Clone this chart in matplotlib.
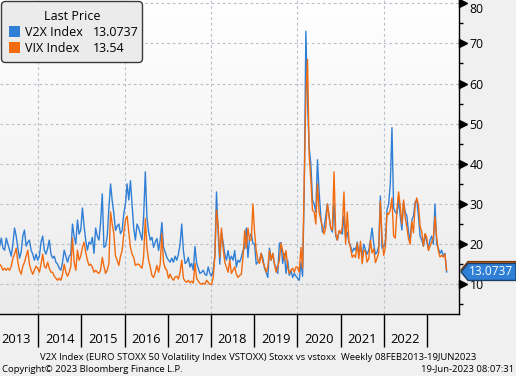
import numpy as np
import pandas as pd
import matplotlib
matplotlib.use("Agg")
import matplotlib.pyplot as plt
import matplotlib.dates as mdates
import matplotlib.transforms as mtransforms
from matplotlib.colors import LinearSegmentedColormap
from matplotlib.patches import FancyBboxPatch, Polygon, Rectangle

plt.rcParams["font.family"] = ["Open Sans", "DejaVu Sans"]

# bi-weekly closes, starting Fri 08 Feb 2013
v2x_2013 = [19.5, 21.5, 19.0, 18.5, 21.5, 20.0, 18.5, 17.0, 20.0, 24.0, 22.0, 19.0,
            16.5, 18.0, 22.0, 23.5, 19.5, 20.5, 21.0, 18.5, 17.5, 16.0, 17.5, 16.0]
v2x_2014 = [17.0, 20.5, 22.0, 18.5, 17.5, 19.0, 21.0, 17.5, 16.5, 17.0, 15.5, 15.0, 14.0,
            13.5, 15.5, 18.5, 17.0, 15.5, 17.0, 17.5, 25.0, 22.0, 20.0, 26.0, 22.5, 23.5]
v2x_2015 = [29.0, 24.5, 21.0, 18.5, 20.5, 20.0, 21.7, 17.7, 24.0, 22.0, 21.0, 25.4, 32.5,
            19.2, 19.5, 22.0, 29.0, 35.0, 30.8, 27.6, 23.4, 24.5, 25.0, 22.6, 23.4, 27.6]
v2x_2016 = [30.0, 35.0, 31.0, 35.8, 30.0, 24.0, 21.0, 25.0, 24.0, 22.5, 21.0, 27.0, 38.0,
            26.6, 23.0, 21.0, 21.7, 19.2, 20.5, 21.4, 18.4, 21.0, 25.4, 19.2, 18.0, 16.7]
v2x_2017 = [16.0, 15.5, 16.5, 15.5, 17.0, 16.0, 17.5, 20.0, 25.0, 18.4, 15.2, 15.5, 16.7,
            14.3, 15.2, 13.5, 19.4, 15.2, 14.0, 12.7, 13.0, 13.5, 12.5, 12.2, 14.3, 12.7]
v2x_2018 = [12.0, 13.5, 17.0, 33.0, 22.6, 15.0, 23.0, 20.4, 17.5, 16.0, 18.4, 16.0, 17.0,
            16.0, 18.4, 14.3, 16.0, 15.5, 16.7, 18.4, 19.0, 24.0, 16.7, 21.7, 22.6, 20.2]
v2x_2019 = [20.0, 15.0, 15.5, 16.0, 17.7, 16.5, 14.0, 13.0, 11.7, 19.0, 16.0, 17.7, 15.0,
            14.3, 12.7, 20.2, 20.4, 15.2, 17.7, 12.7, 16.0, 12.2, 13.5, 11.7, 12.7, 12.0]
v2x_2020 = [11.5, 11.0, 15.5, 12.0, 33.0, 73.0, 55.0, 44.0, 40.0, 31.0, 30.0, 28.0, 41.0,
            33.0, 27.0, 23.0, 24.0, 27.0, 30.0, 27.0, 24.0, 23.0, 30.0, 22.0, 21.0, 23.0]
v2x_2021 = [23.0, 22.5, 27.0, 21.5, 23.0, 20.5, 19.5, 18.0, 19.0, 18.5, 20.5, 17.5, 19.5,
            17.0, 20.0, 18.5, 17.5, 18.5, 21.0, 24.0, 20.0, 17.5, 18.0, 19.5, 32.0, 19.0, 19.5]
v2x_2022 = [20.5, 28.5, 30.0, 35.0, 49.0, 29.0, 28.0, 27.5, 31.0, 27.0, 23.5, 30.5, 28.0,
            27.0, 23.0, 21.0, 26.0, 27.0, 30.5, 31.0, 27.0, 22.0, 21.0, 19.5, 22.5, 20.5]
v2x_2023 = [19.0, 21.0, 22.0, 20.0, 30.0, 20.0, 19.0, 17.7, 18.5, 17.0, 17.7, 13.0737]

vix_2013 = [15.0, 14.5, 13.5, 14.0, 13.5, 14.0, 13.5, 14.5, 16.5, 17.5, 19.0, 15.5,
            13.5, 12.5, 14.5, 15.5, 17.0, 18.5, 15.0, 13.5, 12.5, 13.5, 14.5, 14.0]
vix_2014 = [13.0, 15.0, 17.5, 14.5, 14.0, 15.5, 14.0, 13.0, 13.0, 12.0, 11.5, 11.0, 11.5,
            11.0, 12.5, 15.0, 13.0, 12.0, 13.0, 14.5, 21.5, 15.5, 13.5, 18.5, 16.0, 17.0]
vix_2015 = [19.2, 20.5, 18.0, 16.0, 14.7, 15.0, 14.3, 13.0, 13.5, 13.0, 12.7, 13.5, 16.7,
            14.5, 12.7, 13.5, 15.2, 28.0, 25.0, 22.6, 17.0, 16.0, 14.7, 17.0, 18.4, 22.6]
vix_2016 = [26.0, 27.0, 23.0, 19.2, 17.5, 16.7, 14.7, 15.0, 15.0, 14.5, 14.0, 17.0, 26.4,
            19.0, 16.0, 14.3, 12.2, 11.7, 13.0, 14.7, 13.0, 15.0, 22.6, 15.5, 14.0, 13.5]
vix_2017 = [11.5, 12.5, 11.5, 11.0, 11.8, 12.0, 11.3, 13.0, 16.0, 11.5, 10.8, 10.5, 11.0,
            10.4, 10.8, 10.3, 15.2, 11.5, 10.8, 10.2, 10.0, 10.3, 10.0, 11.0, 10.5, 10.0]
vix_2018 = [10.0, 11.7, 17.0, 28.5, 24.6, 16.7, 24.0, 19.0, 15.5, 14.3, 13.0, 16.0, 12.7,
            13.5, 14.3, 12.5, 11.7, 12.2, 12.5, 16.7, 23.4, 19.0, 24.0, 21.0, 21.0, 30.0]
vix_2019 = [23.0, 18.4, 16.0, 15.2, 17.7, 15.5, 14.5, 13.0, 14.3, 18.4, 16.0, 17.7, 15.2,
            13.0, 14.3, 16.0, 20.2, 18.4, 16.0, 18.4, 14.3, 12.7, 13.5, 14.0, 13.0, 14.3]
vix_2020 = [14.3, 13.0, 19.2, 14.0, 35.0, 57.0, 66.0, 42.0, 36.0, 28.4, 28.0, 25.0, 35.0,
            28.0, 26.0, 24.5, 22.5, 24.0, 30.0, 27.0, 24.0, 23.5, 38.0, 22.6, 21.0, 23.4]
vix_2021 = [22.7, 24.3, 33.0, 20.0, 28.0, 20.7, 19.0, 16.7, 17.3, 16.7, 20.2, 16.4, 20.7,
            15.1, 18.5, 18.2, 15.5, 16.4, 21.0, 17.8, 18.8, 15.4, 16.5, 17.9, 30.7, 21.6, 17.2]
vix_2022 = [19.2, 27.7, 27.4, 28.5, 31.5, 22.0, 21.5, 28.5, 33.0, 29.4, 25.0, 31.0, 26.7,
            24.2, 21.3, 20.0, 25.6, 22.8, 29.9, 31.5, 29.7, 24.5, 23.1, 19.5, 22.6, 21.7]
vix_2023 = [18.4, 19.5, 20.5, 21.7, 26.8, 21.7, 18.4, 16.8, 17.2, 16.8, 17.5, 13.54]

v2x = (v2x_2013 + v2x_2014 + v2x_2015 + v2x_2016 + v2x_2017 + v2x_2018
       + v2x_2019 + v2x_2020 + v2x_2021 + v2x_2022 + v2x_2023)
vix = (vix_2013 + vix_2014 + vix_2015 + vix_2016 + vix_2017 + vix_2018
       + vix_2019 + vix_2020 + vix_2021 + vix_2022 + vix_2023)
dates = pd.date_range("2013-02-08", periods=len(v2x), freq="14D")

year_labels = list(range(2013, 2023))
yticks = [10, 20, 30, 40, 50, 60, 70, 80]
last_v2x = "13.0737"
last_vix = "13.54"

BLUE = "#2f7fd6"
ORANGE = "#f26b0f"
W, H = 516, 376

fig = plt.figure(figsize=(W / 100, H / 100), dpi=100, facecolor="#f0f0f0")
ax = fig.add_axes([0, 1 - 314 / H, 459 / W, 314 / H])

# soft vertical gradient behind the plot
grad = np.linspace(0, 1, 256).reshape(-1, 1)
cmap = LinearSegmentedColormap.from_list("bg", ["#ffffff", "#ebebeb"])
ax.imshow(grad, cmap=cmap, extent=[0, 1, 0, 1], transform=ax.transAxes,
          aspect="auto", zorder=0, origin="upper")

ax.plot(dates, v2x, color=BLUE, lw=1.0, zorder=3)
ax.plot(dates, vix, color=ORANGE, lw=1.0, zorder=4)

ax.set_xlim(mdates.date2num(pd.Timestamp("2013-02-11")), mdates.date2num(pd.Timestamp("2023-09-29")))
ax.set_ylim(2.6, 80.8)

# grid
for v in yticks:
    ax.axhline(v, color="#b9bfcb", lw=0.8, ls=(0, (2.5, 2.5)), zorder=1)
for y in [2014, 2016, 2018, 2020, 2022]:
    ax.axvline(mdates.date2num(pd.Timestamp(f"{y}-01-01")), color="#b9bfcb", lw=0.8,
               ls=(0, (2.5, 2.5)), zorder=1)

for s in ["left", "top"]:
    ax.spines[s].set_visible(False)
for s in ["right", "bottom"]:
    ax.spines[s].set_color("black")
    ax.spines[s].set_linewidth(1.0)

# y axis on the right
ax.yaxis.tick_right()
ax.set_yticks(yticks, [str(v) for v in yticks])
ax.set_yticks([v + 5 for v in yticks[:-1]] + [5], minor=True)
ax.tick_params(axis="y", which="major", length=0, pad=7.5, labelsize=8.8, labelcolor="black")
ax.tick_params(axis="y", which="minor", length=3, width=1, color="black")
ax.yaxis.get_major_ticks()[-1].label2.set_verticalalignment("top")
tri = ax.get_yaxis_transform() + mtransforms.ScaledTranslation(0.035, 0, fig.dpi_scale_trans)
for v in yticks:
    ax.plot(1.0, v, marker=">", ms=6, color="black", transform=tri, clip_on=False, zorder=5)

# x axis: year separators + centred year labels
major = [mdates.date2num(pd.Timestamp(f"{y}-01-01")) for y in range(2014, 2024)]
minor = [mdates.date2num(pd.Timestamp(f"{y}-07-01")) for y in year_labels]
ax.set_xticks(major)
ax.set_xticklabels([])
ax.set_xticks(minor, minor=True)
ax.set_xticklabels([str(y) for y in year_labels], minor=True)
ax.tick_params(axis="x", which="major", length=24, width=1, color="black", direction="out")
ax.tick_params(axis="x", which="minor", length=0, pad=14, labelsize=9.3)

# legend box
fig.add_artist(FancyBboxPatch((1.5, H - 62.5), 141, 61, boxstyle="round,pad=0,rounding_size=4",
                              fc="#ebebeb", ec="#3a3a3a", lw=1.0,
                              transform=mtransforms.IdentityTransform(), zorder=10))
fig.text(72 / W, 1 - 17 / H, "Last Price", ha="center", va="center", fontsize=9, zorder=11)
entries = [(BLUE, "V2X Index", last_v2x, 32), (ORANGE, "VIX Index", last_vix, 48)]
for col, name, val, ypix in entries:
    fig.add_artist(Rectangle((9.3, H - ypix - 5.3), 11, 11, fc=col, ec="none",
                             transform=mtransforms.IdentityTransform(), zorder=11))
    fig.text(25 / W, 1 - ypix / H, name, ha="left", va="center", fontsize=9, zorder=11)
    fig.text(93 / W, 1 - ypix / H, val, ha="left", va="center", fontsize=9, zorder=11)

# last value tags on the right axis (VIX tag sits just behind the V2X one)
def tag_shape(value, col, edge, z):
    yc = ax.get_yaxis_transform().transform((1, value))[1]
    pts = [(461, yc), (468, yc + 8.5), (516, yc + 8.5), (516, yc - 8.5), (468, yc - 8.5)]
    fig.add_artist(Polygon(pts, closed=True, fc=col, ec=edge, lw=1.0,
                           transform=mtransforms.IdentityTransform(), zorder=z))
    return yc

tag_shape(float(last_vix), ORANGE, "#7a3a08", 12)
yc = tag_shape(float(last_v2x), BLUE, "#1d3f66", 13)
fig.text(469 / W, yc / H, last_v2x, ha="left", va="center", color="white", fontsize=8.6, zorder=14)

# footer
fig.text(0.5, 1 - 357 / H,
         "V2X Index (EURO STOXX 50 Volatility Index VSTOXX) Stoxx vs vstoxx  Weekly 08FEB2013-19JUN2023",
         ha="center", va="center", fontsize=6.8)
fig.text(2 / W, 1 - 369 / H, "Copyright\u00a9 2023 Bloomberg Finance L.P.", ha="left", va="center", fontsize=6.8)
fig.text(514 / W, 1 - 369 / H, "19-Jun-2023 08:07:31", ha="right", va="center", fontsize=6.8)

fig.savefig("out.png", dpi=100, facecolor=fig.get_facecolor())
